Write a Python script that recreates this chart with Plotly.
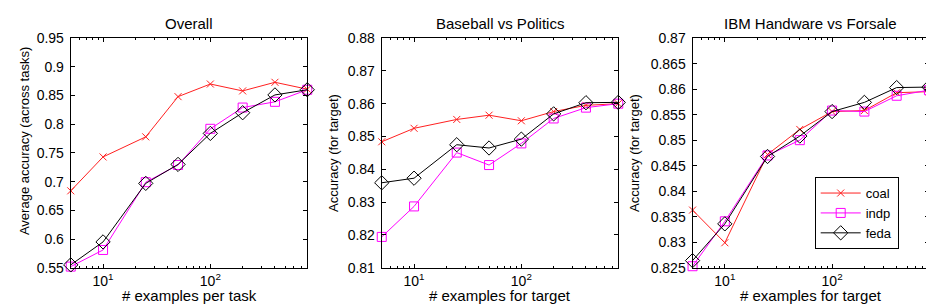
import math
import plotly.graph_objects as go

# ---------------- data ----------------
x_examples = [5, 10, 25, 50, 100, 200, 400, 800]

overall_coal = [0.684, 0.743, 0.778, 0.848, 0.870, 0.858, 0.873, 0.861]
overall_indp = [0.552, 0.581, 0.699, 0.729, 0.792, 0.829, 0.839, 0.860]
overall_feda = [0.555, 0.595, 0.697, 0.730, 0.784, 0.820, 0.851, 0.860]

bp_coal = [0.8484, 0.8525, 0.8552, 0.8565, 0.8548, 0.8576, 0.8595, 0.8600]
bp_indp = [0.8194, 0.8287, 0.8451, 0.8413, 0.8479, 0.8555, 0.8588, 0.8600]
bp_feda = [0.8359, 0.8373, 0.8475, 0.8465, 0.8492, 0.8569, 0.8603, 0.8604]

ibm_coal = [0.8363, 0.8299, 0.8472, 0.8521, 0.8556, 0.8558, 0.8593, 0.8595]
ibm_indp = [0.8253, 0.8341, 0.8470, 0.8500, 0.8558, 0.8556, 0.8587, 0.8598]
ibm_feda = [0.8264, 0.8336, 0.8468, 0.8508, 0.8556, 0.8574, 0.8603, 0.8604]

titles = ["Overall", "Baseball vs Politics", "IBM Handware vs Forsale"]
x_titles = ["# examples per task", "# examples for target", "# examples for target"]
y_titles = ["Average accuracy (across tasks)", "Accuracy (for target)", "Accuracy (for target)"]
series_names = ["coal", "indp", "feda"]

y1_ticks = [0.55, 0.6, 0.65, 0.7, 0.75, 0.8, 0.85, 0.9, 0.95]
y1_text = ["0.55", "0.6", "0.65", "0.7", "0.75", "0.8", "0.85", "0.9", "0.95"]
y2_ticks = [0.81, 0.82, 0.83, 0.84, 0.85, 0.86, 0.87, 0.88]
y2_text = ["0.81", "0.82", "0.83", "0.84", "0.85", "0.86", "0.87", "0.88"]
y3_ticks = [0.825, 0.83, 0.835, 0.84, 0.845, 0.85, 0.855, 0.86, 0.865, 0.87]
y3_text = ["0.825", "0.83", "0.835", "0.84", "0.845", "0.85", "0.855", "0.86", "0.865", "0.87"]

x_major = [10, 100]
x_major_text = ["10<sup>1</sup>", "10<sup>2</sup>"]
x_minor = [6, 7, 8, 9, 20, 30, 40, 50, 60, 70, 80, 90, 200, 300, 400, 500, 600, 700]

# ---------------- styling ----------------
W, H = 934, 305
FONT = "Liberation Sans, Arial, Helvetica, sans-serif"
styles = {
    "coal": dict(color="#ff2020", symbol="x-thin-open", size=7),
    "indp": dict(color="#ff00ff", symbol="square-open", size=9),
    "feda": dict(color="#000000", symbol="diamond-open", size=11),
}

px_x = [(62.7, 299.3), (373.7, 610.3), (684.5, 921.0)]
top_px, bot_px = 23.3, 265.7
y_dom = [(H - bot_px) / H, (H - top_px) / H]
x_range = [math.log10(4.995), math.log10(800.8)]

panels = [
    (overall_coal, overall_indp, overall_feda, (0.55, 0.95), y1_ticks, y1_text),
    (bp_coal, bp_indp, bp_feda, (0.81, 0.88), y2_ticks, y2_text),
    (ibm_coal, ibm_indp, ibm_feda, (0.825, 0.87), y3_ticks, y3_text),
]

fig = go.Figure()

annotations = []
for i, (c, ind, fe, yr, yt, ytx) in enumerate(panels):
    sfx = "" if i == 0 else str(i + 1)
    for name, vals in zip(series_names, (c, ind, fe)):
        st = styles[name]
        fig.add_trace(go.Scatter(
            x=x_examples, y=vals, name=name, mode="lines+markers",
            xaxis="x" + sfx, yaxis="y" + sfx,
            line=dict(color=st["color"], width=1),
            marker=dict(symbol=st["symbol"], size=st["size"], color=st["color"],
                        line=dict(color=st["color"], width=1)),
            showlegend=(i == 2),
            cliponaxis=False,
        ))
    d0, d1 = px_x[i][0] / W, px_x[i][1] / W
    fig.layout["xaxis" + sfx] = dict(
        type="log", domain=[d0, d1], range=x_range,
        anchor="y" + sfx, showgrid=False, zeroline=False,
        showline=True, linecolor="black", linewidth=1, mirror="ticks",
        ticks="inside", ticklen=4, tickcolor="black",
        tickvals=x_major, ticktext=x_major_text,
        minor=dict(tickvals=x_minor, ticks="inside", ticklen=2, tickcolor="black"),
        tickfont=dict(family=FONT, size=14, color="black"),
    )
    fig.layout["yaxis" + sfx] = dict(
        domain=y_dom, range=list(yr), anchor="x" + sfx, showgrid=False, zeroline=False,
        showline=True, linecolor="black", linewidth=1, mirror="ticks",
        ticks="inside", ticklen=4, tickcolor="black",
        tickvals=yt, ticktext=ytx,
        tickfont=dict(family=FONT, size=14, color="black"),
        ticklabelstandoff=3,
    )
    cx = (px_x[i][0] + px_x[i][1]) / 2 / W
    annotations.append(dict(text=titles[i], x=cx, y=(H - 8) / H, xref="paper", yref="paper",
                            showarrow=False, xanchor="center", yanchor="middle",
                            font=dict(family=FONT, size=15, color="black")))
    annotations.append(dict(text=x_titles[i], x=cx, y=(H - 294.5) / H, xref="paper", yref="paper",
                            showarrow=False, xanchor="center", yanchor="middle",
                            font=dict(family=FONT, size=15, color="black")))
ytitle_x = [16, 326, 627]
ytitle_y = [132, 144.5, 144.5]
for i in range(3):
    annotations.append(dict(text=y_titles[i], x=ytitle_x[i] / W, y=(H - ytitle_y[i]) / H,
                            xref="paper", yref="paper", textangle=-90,
                            showarrow=False, xanchor="center", yanchor="middle",
                            font=dict(family=FONT, size=13, color="black")))

fig.update_layout(
    width=W, height=H, margin=dict(l=0, r=0, t=0, b=0),
    paper_bgcolor="white", plot_bgcolor="white",
    annotations=annotations,
    legend=dict(x=806.7 / W, y=(H - 170) / H, xanchor="left", yanchor="top",
                bordercolor="black", borderwidth=1, bgcolor="white",
                font=dict(family=FONT, size=13, color="black"),
                tracegroupgap=0, itemwidth=40),
)

fig.write_html("out.html")
